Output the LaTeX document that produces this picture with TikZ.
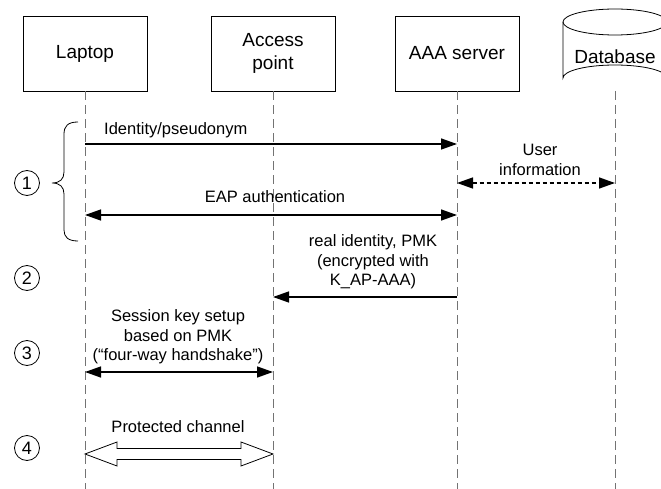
\documentclass[tikz,border=0pt]{standalone}
\usepackage{fontspec}
\setmainfont{Liberation Sans}
\usetikzlibrary{arrows.meta,calc}

\tikzset{
  entity/.style={draw, line width=0.8pt, minimum width=124pt, minimum height=75pt, align=center, font=\fontsize{19}{23}\selectfont},
  lifeline/.style={draw=black!55, line width=0.9pt, dash pattern=on 9pt off 5pt},
  msg/.style={line width=1.4pt, -{Triangle[length=16pt,width=11pt]}},
  dmsg/.style={line width=1.4pt, {Triangle[length=16pt,width=11pt]}-{Triangle[length=16pt,width=11pt]}},
  lbl/.style={align=center, inner sep=0pt, font=\fontsize{16.5}{19.5}\selectfont},
  stepnum/.style={draw, circle, line width=0.8pt, minimum size=25pt, inner sep=0pt, font=\fontsize{18}{18}\selectfont}
}

\begin{document}
\begin{tikzpicture}[x=1pt, y=-1pt]
		\useasboundingbox (0,0) rectangle (661,489);
		\coordinate (bot) at (0,489);
		% entities
		\node[entity] (laptop) at (85,53.5) {Laptop};
		\node[entity] (ap) at (273,53.5) {Access\\point};
		\node[entity] (aaa) at (457,53.5) {AAA server};
		\node[font=\fontsize{19}{23}\selectfont] (db) at (615,57) {Database};
		\draw[line width=0.8pt] (563,22) -- (563,78) arc[start angle=180, end angle=360, x radius=52, y radius=13] -- (667,22);
		\draw[line width=0.8pt] (615,22) ellipse[x radius=52, y radius=13];
		\coordinate (dbb) at (615,91);
		% lifelines
		\draw[lifeline] (laptop.south) -- (laptop.south |- bot);
		\draw[lifeline] (ap.south) -- (ap.south |- bot);
		\draw[lifeline] (aaa.south) -- (aaa.south |- bot);
		\draw[lifeline] (dbb) -- (dbb |- bot);
		% rows
		\coordinate (r1) at (0,144);
		\coordinate (r2) at (0,183);
		\coordinate (r3) at (0,215);
		\coordinate (r4) at (0,297);
		\coordinate (r5) at (0,372);
		\coordinate (r6) at (0,454);
		% step 1
		\node[lbl, anchor=base west] (idlbl) at (104,135) {Identity/pseudonym};
		\draw[msg] (laptop |- r1) -- (aaa |- r1);
		\node[lbl] (uilbl) at (540,160) {User\\information};
		\draw[dmsg, dash pattern=on 4pt off 3pt] (aaa |- r2) -- (dbb |- r2);
		\node[lbl, anchor=base] (eaplbl) at (275,203) {EAP authentication};
		\draw[dmsg] (laptop |- r3) -- (aaa |- r3);
		\node[stepnum] (s1) at (27,183) {1};
		\draw[line width=0.8pt] (78,122) .. controls (68,122) and (64,126) .. (64,134) -- (64,172) .. controls (64,179) and (60,183) .. (52,183) .. controls (60,183) and (64,187) .. (64,194) -- (64,230) .. controls (64,237) and (68,241) .. (78,241);
		% step 2
		\node[lbl] (pmklbl) at (373,262) {real identity, PMK\\(encrypted with\\K\_AP-AAA)};
		\draw[msg] (aaa |- r4) -- (ap |- r4);
		\node[stepnum] (s2) at (27,278) {2};
		% step 3
		\node[lbl] (keylbl) at (178,337) {Session key setup\\based on PMK\\(“four-way handshake”)};
		\draw[dmsg] (laptop |- r5) -- (ap |- r5);
		\node[stepnum] (s3) at (27,353) {3};
		% step 4
		\node[lbl] (chlbl) at (178,427) {Protected channel};
		\draw[line width=0.8pt, fill=white] (laptop |- r6) -- ++(32,-12) -- ++(0,6.5) -- ($(ap |- r6)+(-32,-5.5)$) -- ++(0,-6.5) -- (ap |- r6) -- ++(-32,12) -- ++(0,-6.5) -- ($(laptop |- r6)+(32,5.5)$) -- ++(0,6.5) -- cycle;
		\node[stepnum] (s4) at (27,448) {4};
\end{tikzpicture}
\end{document}
